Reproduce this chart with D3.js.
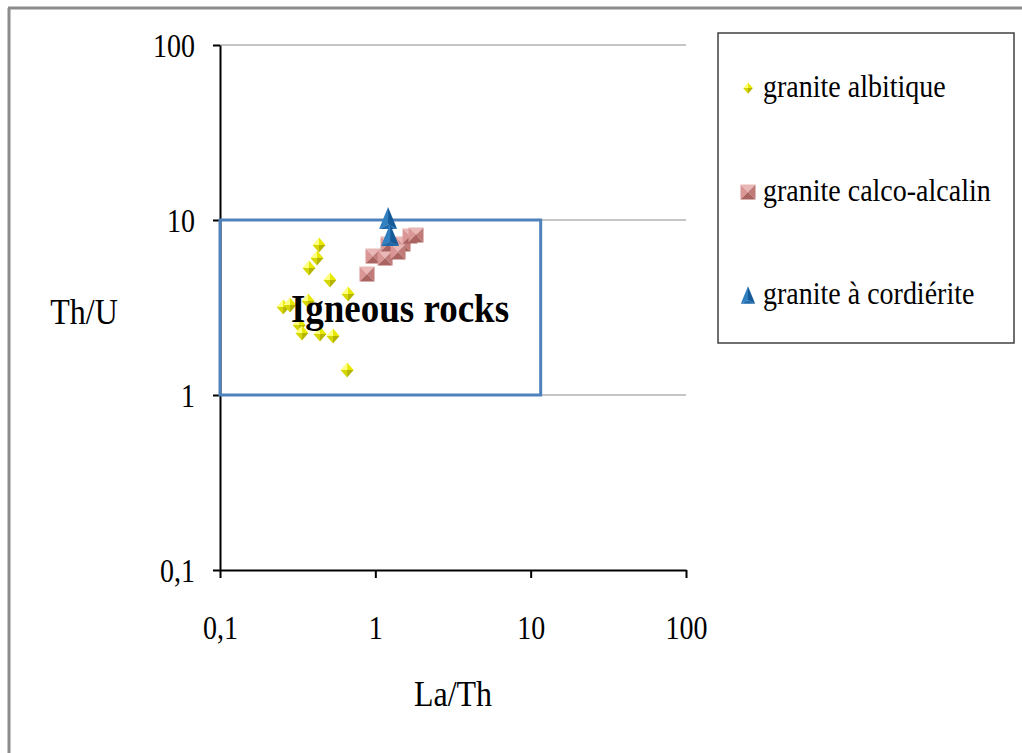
<!DOCTYPE html>
<html>
<head>
<meta charset="utf-8">
<script src="https://cdn.jsdelivr.net/npm/d3@7"></script>
<style>
  html, body { margin: 0; padding: 0; background: #fff; }
  svg { display: block; }
  text { font-family: "Liberation Serif", "Times New Roman", serif; fill: #000; }
</style>
</head>
<body>
<svg id="chart" width="1022" height="753"></svg>
<script>
// Th/U vs La/Th for three granite groups
const albitiqueLaTh = [0.434, 0.421, 0.374, 0.510, 0.667, 0.369, 0.255, 0.282, 0.323, 0.337, 0.440, 0.534, 0.658];
const albitiqueThU  = [7.2, 6.06, 5.32, 4.54, 3.78, 3.44, 3.18, 3.27, 2.51, 2.26, 2.23, 2.17, 1.39];

const calcoLaTh = [0.884, 0.966, 1.155, 1.208, 1.508, 1.673, 1.828, 1.40];
const calcoThU  = [4.91, 6.23, 6.06, 7.29, 7.29, 8.1, 8.2, 6.56];

const cordieriteLaTh = [1.208, 1.244];
const cordieriteThU  = [10.27, 8.2];

const seriesNames = ["granite albitique", "granite calco-alcalin", "granite à cordiérite"];
const tickValues = [0.1, 1, 10, 100];
const igneousLaTh = [0.1, 11.6];
const igneousThU = [1, 10];

const svg = d3.select("#chart");

// place a text element at (px, py) with a vertical stretch
function stretched(sel, px, py, sy) {
  return sel.attr("x", 0).attr("y", 0).attr("transform", `translate(${px},${py}) scale(1,${sy})`);
}

// page frame (left and top edges)
svg.append("line").attr("x1", 9).attr("y1", 8).attr("x2", 9).attr("y2", 753)
  .attr("stroke", "#8c8c8c").attr("stroke-width", 3);
svg.append("line").attr("x1", 8).attr("y1", 8).attr("x2", 1022).attr("y2", 8)
  .attr("stroke", "#8c8c8c").attr("stroke-width", 3);

const x = d3.scaleLog().domain([0.1, 100]).range([220, 686]);
const y = d3.scaleLog().domain([0.1, 100]).range([570, 45]);
const fmt = d => String(d).replace(".", ",");

// horizontal gridlines
svg.append("g").selectAll("line").data(tickValues.slice(1)).join("line")
  .attr("x1", x(0.1)).attr("x2", x(100))
  .attr("y1", d => y(d)).attr("y2", d => y(d))
  .attr("stroke", "#8c8c8c").attr("stroke-width", 1);

// axes
const xAxis = svg.append("g").attr("transform", `translate(0,${y(0.1)})`)
  .call(d3.axisBottom(x).tickValues(tickValues).tickFormat(fmt).tickSize(8).tickSizeOuter(0));
const yAxis = svg.append("g").attr("transform", `translate(${x(0.1)},0)`)
  .call(d3.axisLeft(y).tickValues(tickValues).tickFormat(fmt).tickSize(7).tickSizeOuter(0));
[xAxis, yAxis].forEach(a => {
  a.select(".domain").attr("stroke", "#000").attr("stroke-width", 2);
  a.selectAll(".tick line").attr("stroke", "#000").attr("stroke-width", 2);
  a.selectAll(".tick text").attr("font-family", "Liberation Serif, serif").attr("font-size", 28)
    .attr("fill", "#000").attr("dy", null);
});
xAxis.selectAll(".tick text").each(function () { stretched(d3.select(this), 0, 69, 1.2); });
yAxis.selectAll(".tick text").each(function () { stretched(d3.select(this), -25, 11, 1.2); });

// axis titles
stretched(svg.append("text"), 84, 324, 1.15).attr("text-anchor", "middle")
  .attr("font-size", 32).text("Th/U");
stretched(svg.append("text"), 453, 706, 1.15).attr("text-anchor", "middle")
  .attr("font-size", 32).text("La/Th");

// shaded marker drawing
function diamond(g, s) {
  const w = 6.5 * s, h = 7.5 * s;
  g.append("path").attr("d", `M0,${-h}L${-w},0L0,0Z`).attr("fill", "#ffff80");
  g.append("path").attr("d", `M0,${-h}L${w},0L0,0Z`).attr("fill", "#e8e800");
  g.append("path").attr("d", `M0,${h}L${-w},0L0,0Z`).attr("fill", "#d6d600");
  g.append("path").attr("d", `M0,${h}L${w},0L0,0Z`).attr("fill", "#b5b500");
}
function pyramid(g, s) {
  const r = 7.5 * s;
  g.append("path").attr("d", `M${-r},${-r}L${r},${-r}L0,0Z`).attr("fill", "#e9b8b6");
  g.append("path").attr("d", `M${-r},${-r}L${-r},${r}L0,0Z`).attr("fill", "#d99694");
  g.append("path").attr("d", `M${r},${-r}L${r},${r}L0,0Z`).attr("fill", "#c07a78");
  g.append("path").attr("d", `M${-r},${r}L${r},${r}L0,0Z`).attr("fill", "#a96361");
}
function cone(g, s) {
  const w = 9 * s, h = 11 * s;
  g.append("path").attr("d", `M0,${-h}L${-w},${h}L0,${h * 0.6}Z`).attr("fill", "#2f7fc1");
  g.append("path").attr("d", `M0,${-h}L${w},${h}L0,${h * 0.6}Z`).attr("fill", "#155a99");
  g.append("path").attr("d", `M${-w},${h}L${w},${h}L0,${h * 0.6}Z`).attr("fill", "#1c6aad");
}

const pts = (xs, ys) => xs.map((v, i) => [v, ys[i]]);

svg.append("g").selectAll("g").data(pts(albitiqueLaTh, albitiqueThU)).join("g")
  .attr("transform", d => `translate(${x(d[0])},${y(d[1])})`)
  .each(function () { diamond(d3.select(this), 1); });

svg.append("g").selectAll("g").data(pts(calcoLaTh, calcoThU)).join("g")
  .attr("transform", d => `translate(${x(d[0])},${y(d[1])})`)
  .each(function () { pyramid(d3.select(this), 1); });

// igneous rocks field
svg.append("rect")
  .attr("x", x(igneousLaTh[0])).attr("y", y(igneousThU[1]))
  .attr("width", x(igneousLaTh[1]) - x(igneousLaTh[0]))
  .attr("height", y(igneousThU[0]) - y(igneousThU[1]))
  .attr("fill", "none").attr("stroke", "#4f81bd").attr("stroke-width", 3);

svg.append("g").selectAll("g").data(pts(cordieriteLaTh, cordieriteThU)).join("g")
  .attr("transform", d => `translate(${x(d[0])},${y(d[1])})`)
  .each(function () { cone(d3.select(this), 1); });

stretched(svg.append("text"), 400, 322, 1.1).attr("text-anchor", "middle")
  .attr("font-size", 37).attr("font-weight", "bold").text("Igneous rocks");

// legend
const legend = svg.append("g");
legend.append("rect").attr("x", 718).attr("y", 33).attr("width", 296).attr("height", 310)
  .attr("fill", "#fff").attr("stroke", "#404040").attr("stroke-width", 1.5);
const legendY = [88, 192, 295];
const legendMarks = [s => diamond(s, 0.75), s => pyramid(s, 1), s => cone(s, 0.8)];
seriesNames.forEach((name, i) => {
  const g = legend.append("g").attr("transform", `translate(0,${legendY[i]})`);
  legendMarks[i](g.append("g").attr("transform", "translate(748,0)"));
  stretched(g.append("text"), 763, 9, 1.12).attr("font-size", 28).text(name);
});
</script>
</body>
</html>
